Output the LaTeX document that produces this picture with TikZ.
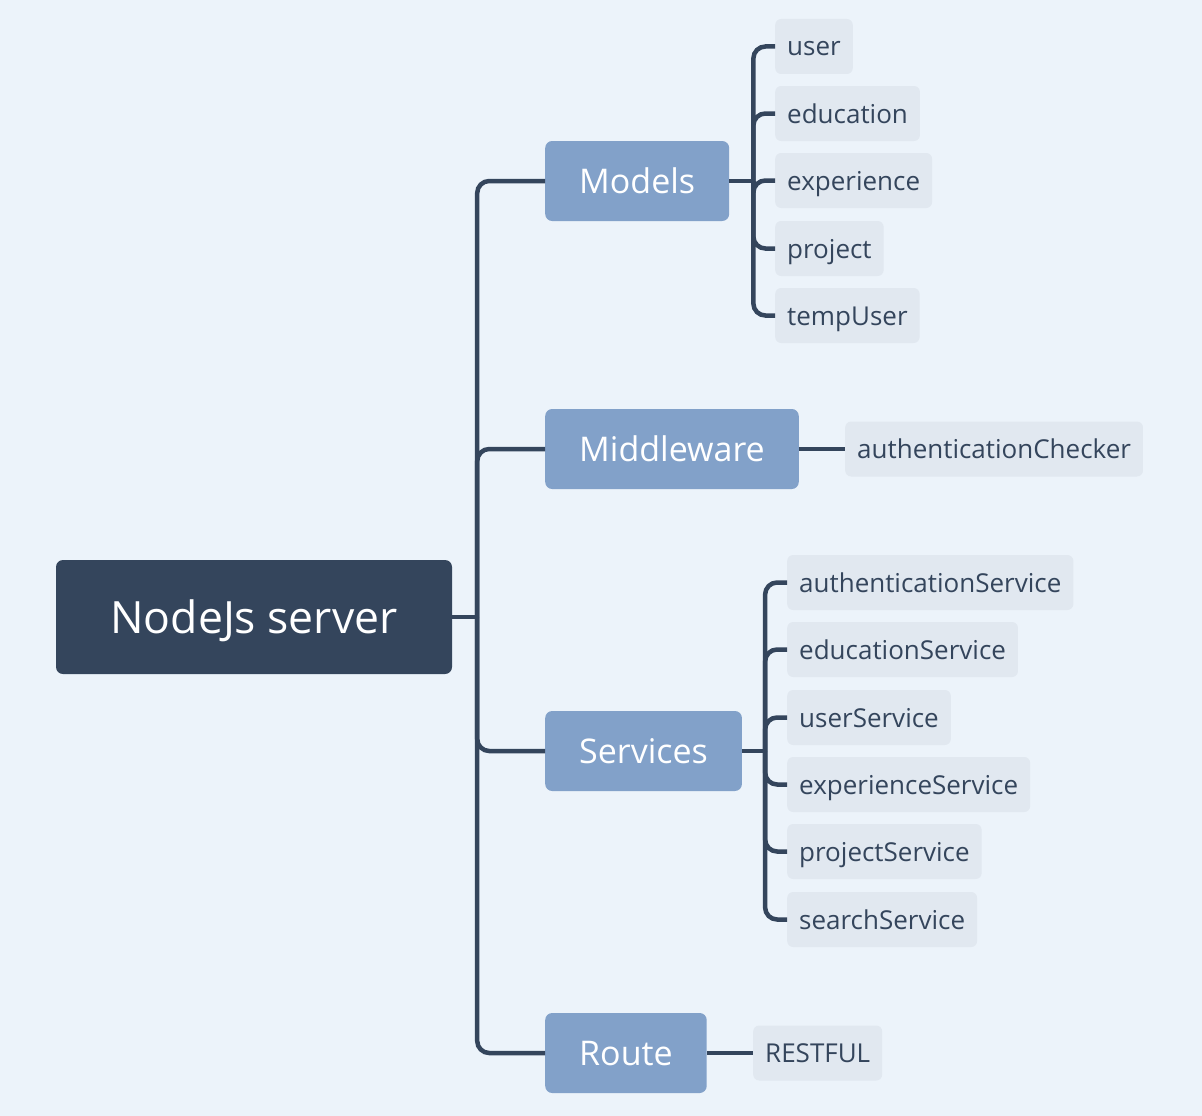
\documentclass[tikz,border=0pt]{standalone}
\usepackage{fontspec}
\setmainfont{Open Sans}
\usetikzlibrary{calc}
\definecolor{bgc}{HTML}{ECF3FA}
\definecolor{dark}{HTML}{34455C}
\definecolor{topicc}{HTML}{82A1C9}
\definecolor{leafc}{HTML}{E1E8F0}
\tikzset{
  rootbox/.style={fill=dark, text=white, rounded corners=7pt, minimum height=114pt, minimum width=396pt, font=\fontsize{44.5}{52}\selectfont, inner sep=0pt, text height=36pt, text depth=4pt},
  topicbox/.style={fill=topicc, text=white, rounded corners=7pt, minimum height=80pt, inner xsep=34pt, inner ysep=0pt, font=\fontsize{34}{40}\selectfont, anchor=west, text height=27pt, text depth=3pt},
  leafbox/.style={fill=leafc, text=dark, rounded corners=6pt, minimum height=55pt, inner xsep=12pt, inner ysep=0pt, font=\fontsize{26}{31}\selectfont, anchor=west, text height=23pt, text depth=4pt},
  conn/.style={draw=dark, line width=4.5pt, rounded corners=12pt}
}
\begin{document}
\begin{tikzpicture}[x=1pt,y=-1pt]
\fill[bgc] (0,0) rectangle (1202,1116);
\useasboundingbox (0,0) rectangle (1202,1116);
% root
\node[rootbox] (root) at (254,617) {NodeJs server};
% topics
\node[topicbox] (models) at (545,181) {Models};
\node[topicbox] (middleware) at (545,449) {Middleware};
\node[topicbox] (services) at (545,751) {Services};
\node[topicbox] (route) at (545,1053) {Route};
% models leaves
\node[leafbox] (user) at (775,46.5) {user};
\node[leafbox] (education) at (775,113.5) {education};
\node[leafbox] (experience) at (775,180.5) {experience};
\node[leafbox] (project) at (775,248.5) {project};
\node[leafbox] (tempuser) at (775,315.5) {tempUser};
% middleware leaf
\node[leafbox] (authchecker) at (845,449) {authenticationChecker};
% services leaves
\node[leafbox] (authservice) at (787,582.5) {authenticationService};
\node[leafbox] (eduservice) at (787,649.5) {educationService};
\node[leafbox] (userservice) at (787,717.5) {userService};
\node[leafbox] (expservice) at (787,784.5) {experienceService};
\node[leafbox] (projservice) at (787,851.5) {projectService};
\node[leafbox] (searchservice) at (787,919.5) {searchService};
% route leaf
\node[leafbox] (restful) at (753,1053) {RESTFUL};
% junctions
\coordinate (j0) at ([xshift=25pt]root.east);
\coordinate (jm) at ([xshift=24pt]models.east);
\coordinate (js) at ([xshift=23pt]services.east);
% connectors
\draw[conn] (root.east) -- (j0);
\foreach \t in {models,middleware,services,route} \draw[conn] (j0) |- (\t.west);
\draw[conn] (models.east) -- (jm);
\foreach \t in {user,education,experience,project,tempuser} \draw[conn] (jm) |- (\t.west);
\draw[conn] (services.east) -- (js);
\foreach \t in {authservice,eduservice,userservice,expservice,projservice,searchservice} \draw[conn] (js) |- (\t.west);
\draw[conn] (middleware.east) -- (authchecker.west);
\draw[conn] (route.east) -- (restful.west);
\end{tikzpicture}
\end{document}
